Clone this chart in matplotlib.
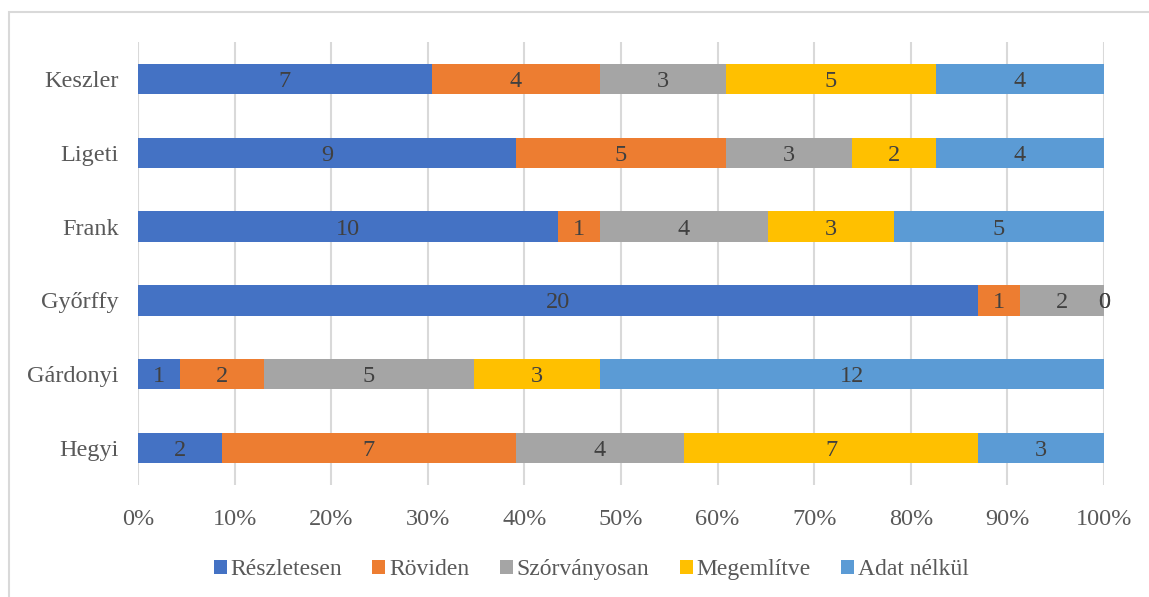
import matplotlib.pyplot as plt
import numpy as np
from matplotlib.patches import Rectangle

names = ["Hegyi", "Gárdonyi", "Győrffy", "Frank", "Ligeti", "Keszler"]
series = ["Részletesen", "Röviden", "Szórványosan", "Megemlítve", "Adat nélkül"]
reszletesen = [2, 1, 20, 10, 9, 7]
roviden = [7, 2, 1, 1, 5, 4]
szorvanyosan = [4, 5, 2, 4, 3, 3]
megemlitve = [7, 3, 0, 3, 2, 5]
adat_nelkul = [3, 12, 0, 5, 4, 4]
colors = ["#4472C4", "#ED7D31", "#A5A5A5", "#FFC000", "#5B9BD5"]

plt.rcParams["font.family"] = ["Liberation Serif", "DejaVu Serif"]
fs = 17.5

data = np.array([reszletesen, roviden, szorvanyosan, megemlitve, adat_nelkul], dtype=float)
totals = data.sum(axis=0)
shares = data / totals

fig = plt.figure(figsize=(11.49, 5.97), dpi=100)
ax = fig.add_axes([138 / 1149, 1 - 485 / 597, 966 / 1149, 443 / 597])

y = np.arange(len(names))
left = np.zeros(len(names))
for i, name in enumerate(series):
    ax.barh(y, shares[i], left=left, height=0.41, color=colors[i], label=name, zorder=3)
    for j in range(len(names)):
        ax.text(left[j] + shares[i][j] / 2, y[j], f"{int(data[i][j])}",
                ha="center", va="center_baseline", fontsize=fs, color="#404040", zorder=4)
    left += shares[i]

ax.set_xlim(0, 1)
ax.set_ylim(-0.5, len(names) - 0.5)
ax.set_xticks(np.linspace(0, 1, 11))
ax.set_xticklabels([f"{k}%" for k in range(0, 101, 10)])
ax.set_yticks(y)
ax.set_yticklabels(names)
ax.tick_params(length=0, labelsize=fs, labelcolor="#595959")
ax.tick_params(axis="x", pad=17)
ax.tick_params(axis="y", pad=14)
ax.grid(axis="x", color="#D9D9D9", linewidth=1.5, zorder=0)
for s in ax.spines.values():
    s.set_visible(False)

ax.legend(loc="upper center", bbox_to_anchor=(0.469, -0.12), ncol=5, frameon=False,
          fontsize=17, labelcolor="#595959", handlelength=0.55, handleheight=0.55,
          handletextpad=0.15, columnspacing=1.3)

fig.patches.append(Rectangle((9 / 1149, -0.1), 1.2, 1 - 12 / 597 + 0.1,
                             transform=fig.transFigure, fill=False,
                             edgecolor="#D9D9D9", linewidth=1.5))

fig.savefig("out.png", dpi=100)
